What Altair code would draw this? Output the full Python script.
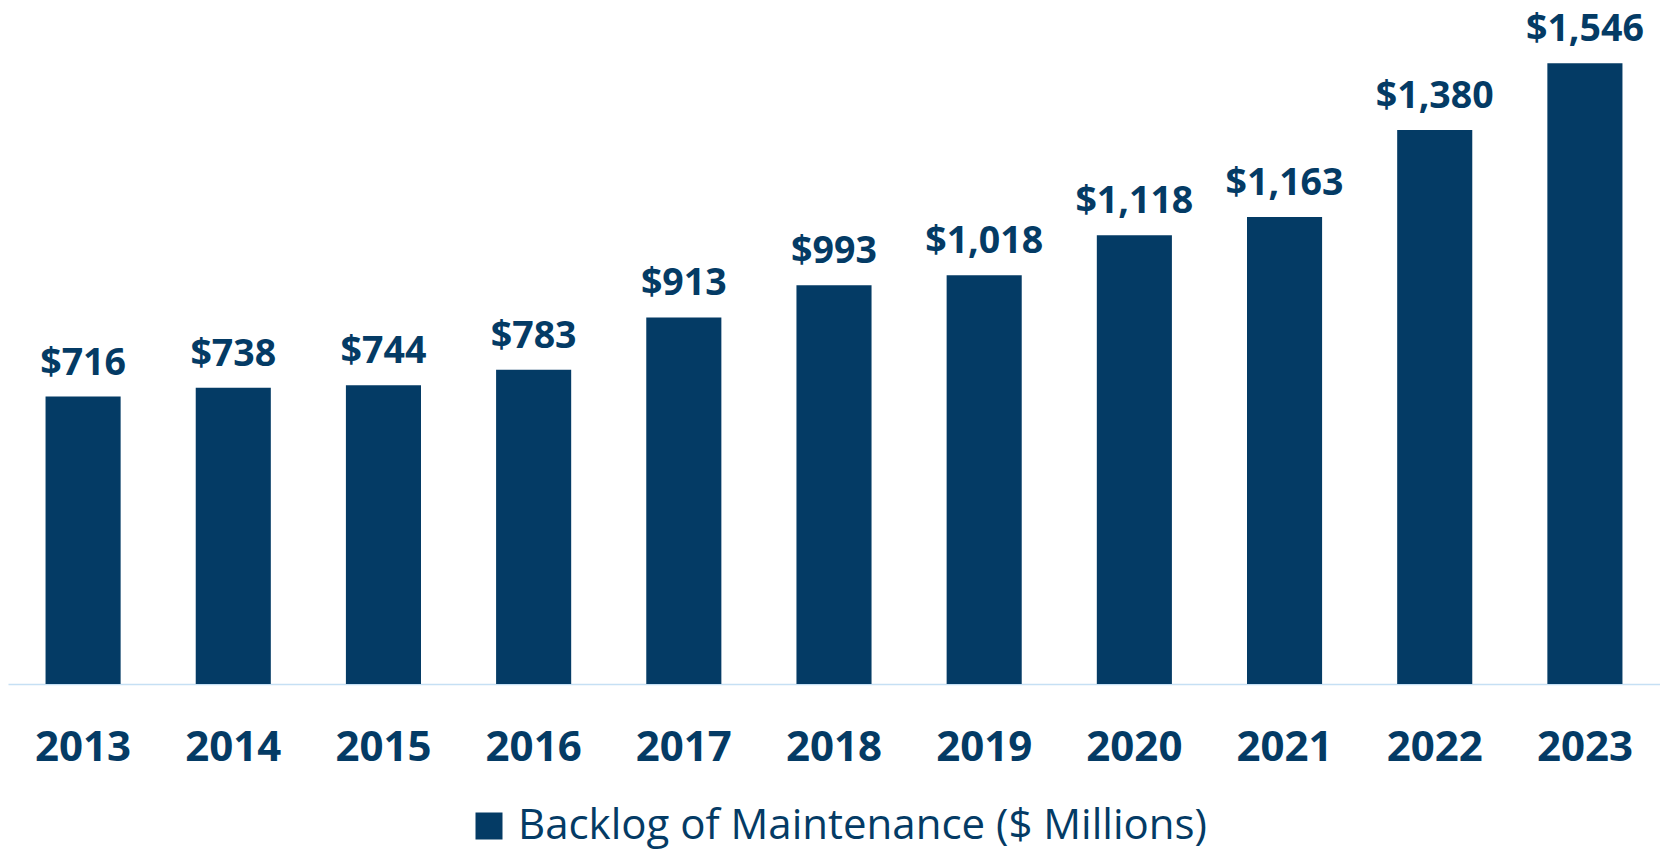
import altair as alt
import pandas as pd

years = ["2013", "2014", "2015", "2016", "2017", "2018", "2019", "2020", "2021", "2022", "2023"]
values = [716, 738, 744, 783, 913, 993, 1018, 1118, 1163, 1380, 1546]
series_name = "Backlog of Maintenance ($ Millions)"

df = pd.DataFrame({
    "year": years,
    "value": values,
    "label": ["${:,}".format(v) for v in values],
    "series": [series_name] * len(years),
})

COLOR = "#043B65"
FONT = "Open Sans"

base = alt.Chart(df)

bars = base.mark_bar().encode(
    x=alt.X(
        "year:N",
        sort=years,
        scale=alt.Scale(paddingInner=0.5, paddingOuter=0.25),
        axis=alt.Axis(
            title=None, labelAngle=0, labelFont=FONT, labelFontWeight="bold",
            labelFontSize=42, labelColor=COLOR, labelPadding=43, labelBaseline="top",
            domainColor="#C6E0F4", domainWidth=1.5, ticks=False, grid=False,
        ),
    ),
    y=alt.Y("value:Q", scale=alt.Scale(domain=[0, 1664], nice=False), axis=None),
    color=alt.Color(
        "series:N",
        scale=alt.Scale(range=[COLOR]),
        legend=alt.Legend(
            title=None, orient="none", legendX=460, legendY=789,
            symbolType="square", symbolSize=729, symbolStrokeWidth=0, symbolOpacity=1,
            labelFont=FONT, labelFontSize=42, labelColor=COLOR, labelLimit=2000,
            labelOffset=8,
        ),
    ),
)

text = base.mark_text(
    baseline="alphabetic", dy=-22, font=FONT, fontWeight="bold", fontSize=37.5, color=COLOR
).encode(x=alt.X("year:N", sort=years), y="value:Q", text="label:N")

chart = (bars + text).properties(
    width=1652, height=668,
    padding={"left": 0, "top": 8, "right": 0, "bottom": 166},
    autosize=alt.AutoSizeParams(type="none"),
).configure_view(stroke=None)

chart.save("out.html", embed_options={"renderer": "svg", "actions": False})
